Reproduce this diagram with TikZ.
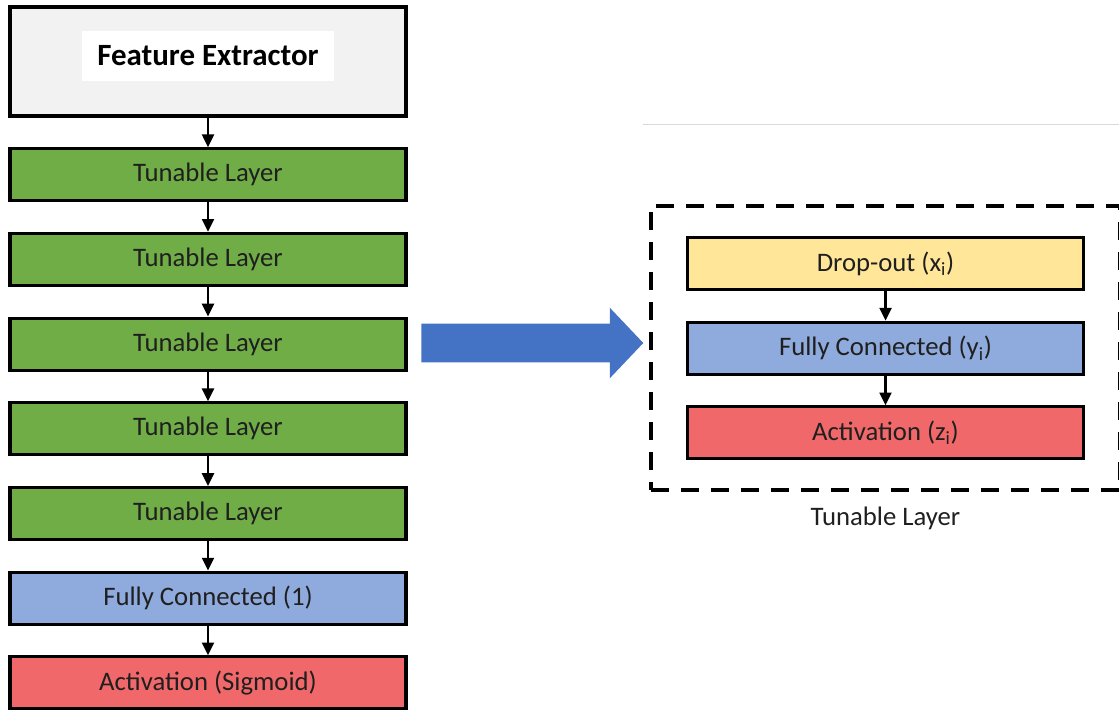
\documentclass[tikz,border=0pt]{standalone}
\usepackage{fontspec}
\setmainfont{Carlito}
\usetikzlibrary{positioning,fit,shapes.arrows,arrows.meta}

\definecolor{extgray}{HTML}{F2F2F2}
\definecolor{tunegreen}{HTML}{70AD47}
\definecolor{fcblue}{HTML}{8FAADC}
\definecolor{actred}{HTML}{F1686A}
\definecolor{dropyellow}{HTML}{FFE699}
\definecolor{arrowblue}{HTML}{4472C4}

\tikzset{
	layer/.style={draw=black, line width=2.2pt, minimum width=9.9cm, minimum height=1.3cm, inner sep=0pt, text=black!88, font=\fontsize{19}{22}\selectfont},
	flow/.style={-{Triangle[length=0.32cm,width=0.3cm]}, line width=1.6pt},
}

\begin{document}
\begin{tikzpicture}[node distance=0.74cm]
	\useasboundingbox (0,0) rectangle (27.975,-17.775);

	%% MAIN NETWORK
	\node[layer, fill=extgray, minimum height=2.725cm](feat_ext) at (5.2,-1.5375){};
	\node[fill=white, minimum width=6.3cm, minimum height=1.25cm, inner sep=0pt, font=\fontsize{22}{26}\selectfont\bfseries, yshift=0.14cm](feat_ext_label) at (feat_ext.center){Feature Extractor};

	\node[layer, fill=tunegreen, below=of feat_ext](tune_1){Tunable Layer};
	\node[layer, fill=tunegreen, below=of tune_1](tune_2){Tunable Layer};
	\node[layer, fill=tunegreen, below=of tune_2](tune_3){Tunable Layer};
	\node[layer, fill=tunegreen, below=of tune_3](tune_4){Tunable Layer};
	\node[layer, fill=tunegreen, below=of tune_4](tune_5){Tunable Layer};
	\node[layer, fill=fcblue, below=of tune_5](fc_out){Fully Connected (1)};
	\node[layer, fill=actred, below=of fc_out](act_out){Activation (Sigmoid)};

	\draw[flow] (feat_ext) -- (tune_1);
	\draw[flow] (tune_1) -- (tune_2);
	\draw[flow] (tune_2) -- (tune_3);
	\draw[flow] (tune_3) -- (tune_4);
	\draw[flow] (tune_4) -- (tune_5);
	\draw[flow] (tune_5) -- (fc_out);
	\draw[flow] (fc_out) -- (act_out);

	%% TUNABLE LAYER DETAIL
	\node[layer, fill=dropyellow](drop) at (22.1375,-6.5875){Drop-out (x\textsubscript{i})};
	\node[layer, fill=fcblue, below=of drop](fc_tune){Fully Connected (y\textsubscript{i})};
	\node[layer, fill=actred, below=of fc_tune](act_tune){Activation (z\textsubscript{i})};

	\draw[flow] (drop) -- (fc_tune);
	\draw[flow] (fc_tune) -- (act_tune);

	\node[draw=black, line width=2.8pt, dash pattern=on 0.45cm off 0.3cm, inner xsep=0.88cm, inner ysep=0.75cm, fit=(drop)(act_tune)](tune_box){};
	\node[below=0.25cm of tune_box, text=black!88, font=\fontsize{19}{22}\selectfont](tune_box_label){Tunable Layer};

	%% ZOOM ARROW
	\node[single arrow, fill=arrowblue, anchor=tail, minimum height=5.55cm, inner xsep=0pt, inner ysep=0.475cm, single arrow head extend=0.4cm, single arrow tip angle=93](zoom_arrow) at (10.525,-8.575){};

	\draw[black!15, line width=0.6pt] (16.075,-3.1) -- (27.975,-3.1);

\end{tikzpicture}
\end{document}
